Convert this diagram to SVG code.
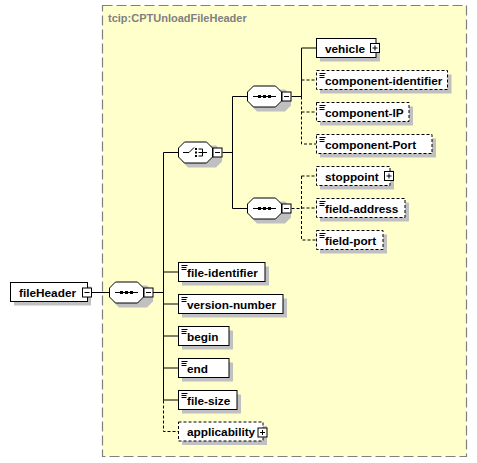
<svg xmlns="http://www.w3.org/2000/svg" width="477" height="463" viewBox="0 0 477 463">
<style>
.frame{fill:#ffffcc;stroke:#808080;stroke-width:1.2;stroke-dasharray:10,4}
.title{font-family:"Liberation Sans",Arial,sans-serif;font-weight:bold;font-size:11px;fill:#808080}
.box{fill:#ffffff;stroke:#000;stroke-width:1}
.opt{fill:#ffffff;stroke:#000;stroke-width:1;stroke-dasharray:3,2}
.sh{fill:#c0c0c0}
.lbl{font-family:"Liberation Sans",Arial,sans-serif;font-weight:bold;font-size:11.8px;fill:#000}
.ln{fill:none;stroke:#000;stroke-width:1}
.dl{fill:none;stroke:#000;stroke-width:1;stroke-dasharray:3,2}
.ic{fill:#ffffff;stroke:#000;stroke-width:1}
.dot{fill:#000}
</style>
<defs>
<g id="minus"><rect class="ic" x="0.5" y="0.5" width="9" height="9"/><path class="ln" d="M2.5 5H7.5"/></g>
<g id="plus"><rect class="ic" x="0.5" y="0.5" width="9" height="9"/><path class="ln" d="M2.5 5H7.5M5 2.5V7.5"/></g>
<g id="simp"><path class="ln" d="M3 3H9M3 5H8M3 7H8"/></g>
<g id="seq">
<path class="sh" d="M10 4H38L44 10V20L38 26H10L4 20V10Z"/>
<path class="box" d="M6.5 0.5H28.5L34.5 6.5V15.5L28.5 21.5H6.5L0.5 15.5V6.5Z"/>
<path class="ln" d="M6 11H29"/>
<rect class="dot" x="11" y="9.5" width="3" height="3"/><rect class="dot" x="16" y="9.5" width="3" height="3"/><rect class="dot" x="21" y="9.5" width="3" height="3"/>
</g>
<g id="cho">
<path class="sh" d="M10 4H38L44 10V20L38 26H10L4 20V10Z"/>
<path class="box" d="M6.5 0.5H28.5L34.5 6.5V15.5L28.5 21.5H6.5L0.5 15.5V6.5Z"/>
<path class="ln" d="M5 11H11L16 6"/>
<rect class="dot" x="17" y="6.5" width="2" height="2"/><rect class="dot" x="17" y="10" width="2" height="2"/><rect class="dot" x="17" y="13.5" width="2" height="2"/>
<path class="ln" d="M20.5 7.5H24.5V14.5H20.5M20.5 11H29"/>
</g>
</defs>

<rect class="frame" x="102.5" y="5.5" width="364" height="451"/>
<text class="title" x="108" y="22">tcip:CPTUnloadFileHeader</text>

<g id="connectors">
<path class="ln" d="M91 292.5H109"/>
<path class="ln" d="M153 292.5H163.5"/>
<path class="ln" d="M163.5 152.5V400.5"/>
<path class="dl" d="M163.5 400.5V431.5H178"/>
<path class="ln" d="M163.5 152.5H178"/>
<path class="ln" d="M163.5 272H178M163.5 304H178M163.5 336H178M163.5 368H178M163.5 400H178"/>
<path class="ln" d="M222.5 152.5H232.5"/>
<path class="ln" d="M232.5 96.5V208.5"/>
<path class="ln" d="M232.5 96.5H247M232.5 208.5H247"/>
<path class="ln" d="M291.5 96.5H301.5V48H316"/>
<path class="dl" d="M301.5 96.5V144H316M301.5 80H316M301.5 112H316"/>
<path class="dl" d="M291.5 208.5H301.5M301.5 176V240H316M301.5 176H316M301.5 208H316"/>
</g>

<g id="fileHeader">
<rect class="sh" x="14" y="286.5" width="77" height="19"/>
<rect class="box" x="10.5" y="282.5" width="77" height="19"/>
<text class="lbl" x="19" y="296.5">fileHeader</text>
<use href="#minus" x="82" y="287.5"/>
</g>

<g id="seq0"><use href="#seq" x="109" y="281.5"/><use href="#minus" x="143.5" y="287.5"/></g>
<g id="choice"><use href="#cho" x="178" y="141.5"/><use href="#minus" x="212.5" y="147.5"/></g>
<g id="seq1"><use href="#seq" x="247" y="85.5"/><use href="#minus" x="281.5" y="91.5"/></g>
<g id="seq2"><use href="#seq" x="247" y="197.5"/><use href="#minus" x="281.5" y="203.5"/></g>

<g id="vehicle">
<rect class="sh" x="320" y="42.5" width="60" height="19"/>
<rect class="box" x="316.5" y="38.5" width="59.5" height="19"/>
<text class="lbl" x="325" y="52.5">vehicle</text>
<use href="#plus" x="370" y="43"/>
</g>
<g id="component-identifier">
<rect class="sh" x="320" y="74.5" width="131.5" height="19"/>
<rect class="opt" x="316.5" y="70.5" width="131" height="19"/>
<use href="#simp" x="316.5" y="70.5"/>
<text class="lbl" x="325" y="84.5">component-identifier</text>
</g>
<g id="component-IP">
<rect class="sh" x="320" y="106.5" width="93" height="19"/>
<rect class="opt" x="316.5" y="102.5" width="92.5" height="19"/>
<use href="#simp" x="316.5" y="102.5"/>
<text class="lbl" x="325" y="116.5">component-IP</text>
</g>
<g id="component-Port">
<rect class="sh" x="320" y="138.5" width="116" height="19"/>
<rect class="opt" x="316.5" y="134.5" width="115.5" height="19"/>
<use href="#simp" x="316.5" y="134.5"/>
<text class="lbl" x="325" y="148.5">component-Port</text>
</g>
<g id="stoppoint">
<rect class="sh" x="320" y="170.5" width="74" height="19"/>
<rect class="opt" x="316.5" y="166.5" width="73.5" height="19"/>
<text class="lbl" x="325" y="180.5">stoppoint</text>
<use href="#plus" x="384" y="171"/>
</g>
<g id="field-address">
<rect class="sh" x="320" y="202.5" width="89" height="19"/>
<rect class="opt" x="316.5" y="198.5" width="88.5" height="19"/>
<use href="#simp" x="316.5" y="198.5"/>
<text class="lbl" x="325" y="212.5">field-address</text>
</g>
<g id="field-port">
<rect class="sh" x="320" y="234.5" width="67" height="19"/>
<rect class="opt" x="316.5" y="230.5" width="66.5" height="19"/>
<use href="#simp" x="316.5" y="230.5"/>
<text class="lbl" x="325" y="244.5">field-port</text>
</g>

<g id="file-identifier">
<rect class="sh" x="182" y="266.5" width="87" height="19"/>
<rect class="box" x="178.5" y="262.5" width="86.5" height="19"/>
<use href="#simp" x="178.5" y="262.5"/>
<text class="lbl" x="187" y="276.5">file-identifier</text>
</g>
<g id="version-number">
<rect class="sh" x="182" y="298.5" width="105" height="19"/>
<rect class="box" x="178.5" y="294.5" width="104.5" height="19"/>
<use href="#simp" x="178.5" y="294.5"/>
<text class="lbl" x="187" y="308.5">version-number</text>
</g>
<g id="begin">
<rect class="sh" x="182" y="330.5" width="51" height="19"/>
<rect class="box" x="178.5" y="326.5" width="50.5" height="19"/>
<use href="#simp" x="178.5" y="326.5"/>
<text class="lbl" x="187" y="340.5">begin</text>
</g>
<g id="end">
<rect class="sh" x="182" y="362.5" width="51" height="19"/>
<rect class="box" x="178.5" y="358.5" width="50.5" height="19"/>
<use href="#simp" x="178.5" y="358.5"/>
<text class="lbl" x="187" y="372.5">end</text>
</g>
<g id="file-size">
<rect class="sh" x="182" y="394.5" width="59" height="19"/>
<rect class="box" x="178.5" y="390.5" width="58.5" height="19"/>
<use href="#simp" x="178.5" y="390.5"/>
<text class="lbl" x="187" y="404.5">file-size</text>
</g>
<g id="applicability">
<rect class="sh" x="182" y="426" width="85" height="19"/>
<rect class="opt" x="178.5" y="422" width="84.5" height="19"/>
<text class="lbl" x="187" y="436">applicability</text>
<use href="#plus" x="257.5" y="427.5"/>
</g>
</svg>
